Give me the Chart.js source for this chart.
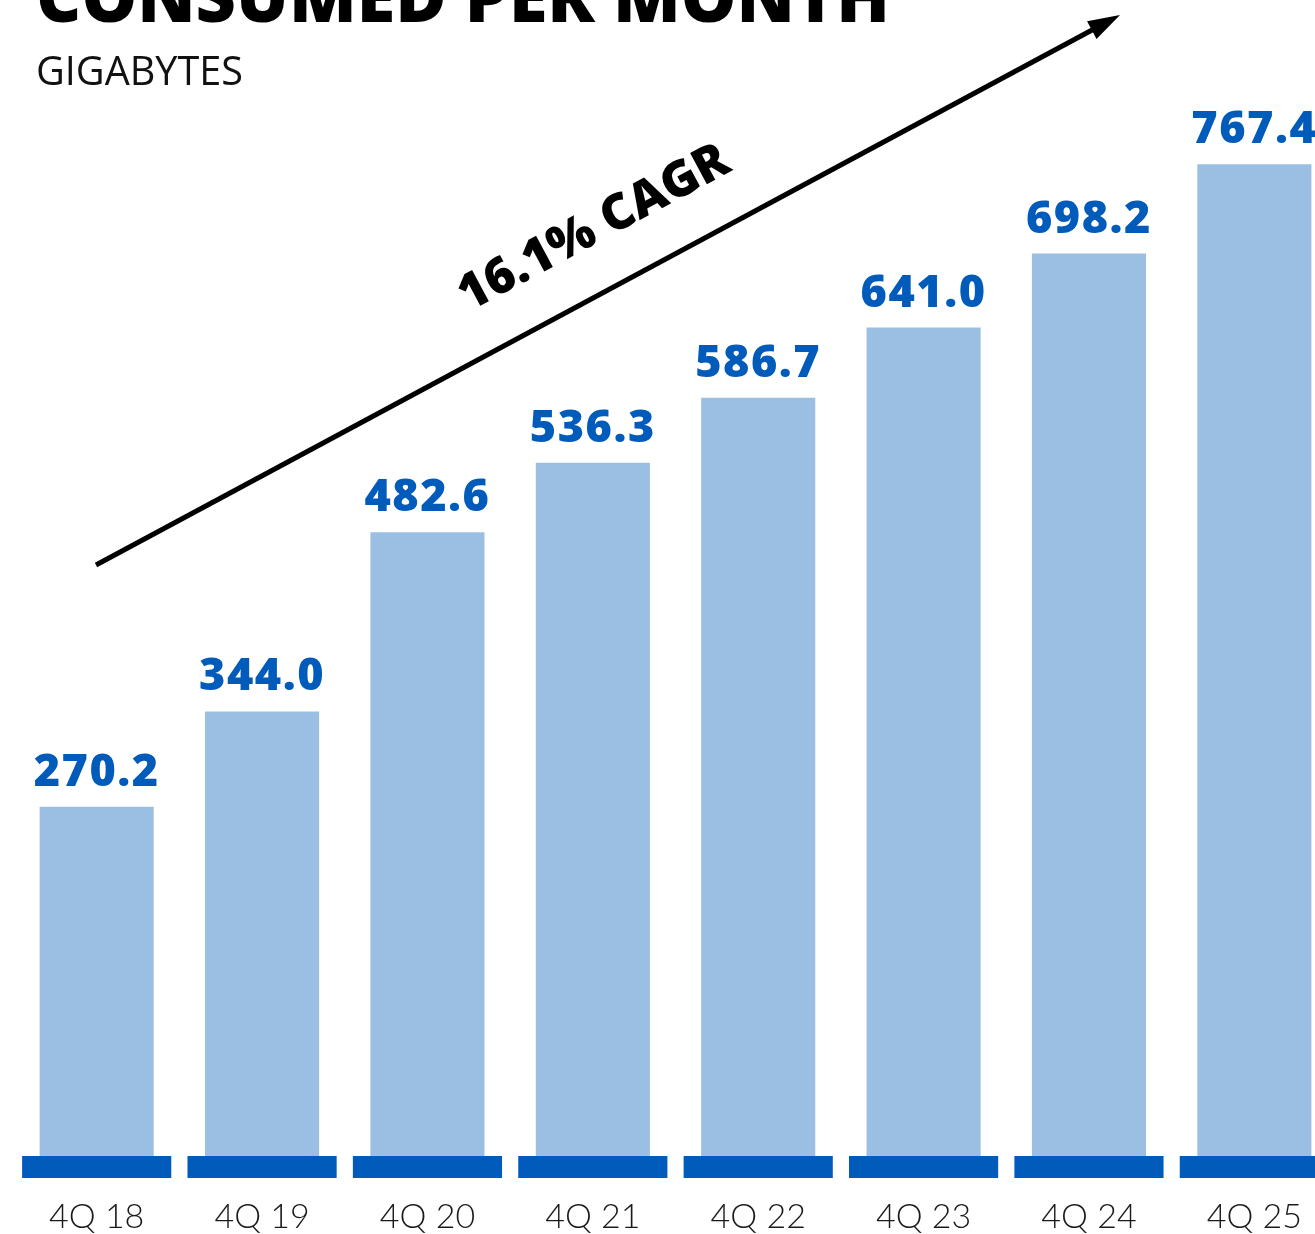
<!DOCTYPE html>
<html><head><meta charset="utf-8">
<script src="https://cdn.jsdelivr.net/npm/chart.js@4.4.1/dist/chart.umd.min.js"></script>
<style>
html,body{margin:0;padding:0;background:#fff;overflow:hidden;width:1315px;height:1234px}
#wrap{position:absolute;left:0;top:0;width:1346px;height:1234px}
canvas{display:block}
</style></head><body>
<div id="wrap"><canvas id="c" width="1346" height="1234"></canvas></div>
<script>
const categories = ['4Q 18','4Q 19','4Q 20','4Q 21','4Q 22','4Q 23','4Q 24','4Q 25'];
const values = [270.2, 344.0, 482.6, 536.3, 586.7, 641.0, 698.2, 767.4];
const valueLabels = ['270.2','344.0','482.6','536.3','586.7','641.0','698.2','767.4'];
const titleText = 'CONSUMED PER MONTH';
const subtitleText = 'GIGABYTES';
const cagrText = '16.1% CAGR';

const BAR = '#9bbfe2';
const DARK = '#005bbb';

function fitSize(ctx, text, weight, family, targetW, base) {
  ctx.font = `${weight} ${base}px ${family}`;
  const w = ctx.measureText(text).width;
  return base * targetW / w;
}

const overlay = {
  id: 'overlay',
  afterDatasetsDraw(chart) {
    const ctx = chart.ctx;
    const xs = chart.scales.x, ys = chart.scales.y;
    const n = categories.length;
    const catW = xs.width / n;
    const y0 = ys.getPixelForValue(0);
    ctx.save();
    ctx.fillStyle = DARK;
    for (let i = 0; i < n; i++) {
      const cx = xs.getPixelForValue(i);
      const w = catW * 0.902;
      ctx.fillRect(cx - w / 2, y0, w, 22);
    }
    const meta = chart.getDatasetMeta(0);
    ctx.font = '800 45px "Open Sans", "DejaVu Sans", sans-serif';
    ctx.letterSpacing = '1.5px';
    ctx.textAlign = 'center';
    ctx.textBaseline = 'alphabetic';
    meta.data.forEach((el, i) => {
      ctx.fillText(valueLabels[i], el.x, el.y - 21);
    });
    ctx.restore();
  },
  afterDraw(chart) {
    const ctx = chart.ctx;
    ctx.save();
    ctx.fillStyle = '#000';
    ctx.textAlign = 'left';
    ctx.textBaseline = 'alphabetic';
    let s = fitSize(ctx, titleText, 800, '"Open Sans", sans-serif', 854, 60);
    ctx.font = `800 ${s}px "Open Sans", sans-serif`;
    ctx.fillText(titleText, 36, 22);
    s = fitSize(ctx, subtitleText, 400, '"Open Sans", sans-serif', 207, 30);
    ctx.font = `400 ${s}px "Open Sans", sans-serif`;
    ctx.fillStyle = '#111';
    ctx.fillText(subtitleText, 36, 85);

    const x1 = 96, y1 = 565, x2 = 1120, y2 = 15;
    const ang = Math.atan2(y2 - y1, x2 - x1);
    const headL = 32, headW = 10;
    const bx = x2 - headL * Math.cos(ang), by = y2 - headL * Math.sin(ang);
    ctx.strokeStyle = '#000';
    ctx.lineWidth = 5;
    ctx.beginPath();
    ctx.moveTo(x1, y1);
    ctx.lineTo(bx + 4 * Math.cos(ang), by + 4 * Math.sin(ang));
    ctx.stroke();
    ctx.fillStyle = '#000';
    ctx.beginPath();
    ctx.moveTo(x2, y2);
    ctx.lineTo(bx + headW * Math.sin(ang), by - headW * Math.cos(ang));
    ctx.lineTo(bx - headW * Math.sin(ang), by + headW * Math.cos(ang));
    ctx.closePath();
    ctx.fill();

    s = fitSize(ctx, cagrText, 800, '"Open Sans", sans-serif', 300, 48);
    ctx.translate(601, 241);
    ctx.rotate(ang);
    ctx.font = `800 ${s}px "Open Sans", sans-serif`;
    ctx.textAlign = 'center';
    ctx.fillText(cagrText, 0, 0);
    ctx.restore();
  }
};

new Chart(document.getElementById('c'), {
  type: 'bar',
  data: {
    labels: categories,
    datasets: [{
      data: values,
      backgroundColor: BAR,
      borderWidth: 0,
      categoryPercentage: 1,
      barPercentage: 0.69
    }]
  },
  options: {
    responsive: false,
    animation: false,
    devicePixelRatio: 1,
    layout: { padding: { left: 14, right: 0, top: 122, bottom: 0 } },
    plugins: { legend: { display: false }, tooltip: { enabled: false }, title: { display: false } },
    scales: {
      x: {
        grid: { display: false, drawTicks: false },
        border: { display: false },
        afterFit(scale) { scale.height = 78; },
        ticks: {
          color: '#1a1a1a',
          padding: 44,
          font: { family: 'Lato, "Open Sans", sans-serif', size: 34, weight: 300, lineHeight: 1 }
        }
      },
      y: { display: false, min: 0, max: 800 }
    }
  },
  plugins: [overlay]
});
</script>
</body></html>
